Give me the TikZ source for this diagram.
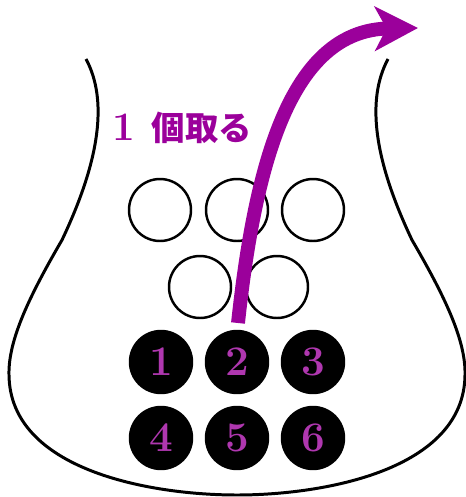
\documentclass[tikz,border=0pt]{standalone}
\usepackage{fontspec}
\newfontfamily\jpfont{Noto Sans CJK JP}
\usetikzlibrary{arrows.meta}
\definecolor{grape}{RGB}{155,0,155}
\definecolor{lilac}{RGB}{175,55,175}
\tikzset{
  ball/.style={circle,draw=black,line width=1.4pt,minimum size=1.24cm,inner sep=0pt},
  fullball/.style={ball,fill=black,text=lilac,font=\fontsize{24}{24}\selectfont\bfseries},
}
\begin{document}
\begin{tikzpicture}[x=0.02cm,y=-0.02cm]
			\useasboundingbox (0,0) rectangle (466,497);
			% flask outline
			\draw[line width=1.7pt] (86,59) .. controls (108,100) and (100,160) .. (62,240)
			.. controls (30,295) and (8,340) .. (9,375)
			.. controls (10,470) and (150,495) .. (237,495)
			.. controls (324,495) and (464,470) .. (465,375)
			.. controls (466,340) and (444,295) .. (412,240)
			.. controls (374,160) and (366,100) .. (388,59);
			% white balls
			\foreach \n/\x/\y in {w1/160/210,w2/237/210,w3/313/210,w4/200/287,w5/277/287}
			\node[ball] (\n) at (\x,\y) {};
			% arrow
			\coordinate (start) at (238,323);
			\coordinate (tip) at (418,28);
			\draw[grape,line width=7.9pt,-{Stealth[length=0.86cm,width=0.88cm,inset=0.23cm]}] (start) .. controls (255,165) and (290,30) .. (tip);
			\node[grape,font=\fontsize{19}{19}\selectfont\bfseries] (label) at (182,128) {{\fontsize{23}{23}\selectfont 1}\hspace{0.5em}{\jpfont 個取る}};
			% black balls
			\foreach \n/\x/\y in {1/161/362,2/237/362,3/313/362,4/161/438,5/237/438,6/313/438}
			\node[fullball] (b\n) at (\x,\y) {\n};
		\end{tikzpicture}
\end{document}
